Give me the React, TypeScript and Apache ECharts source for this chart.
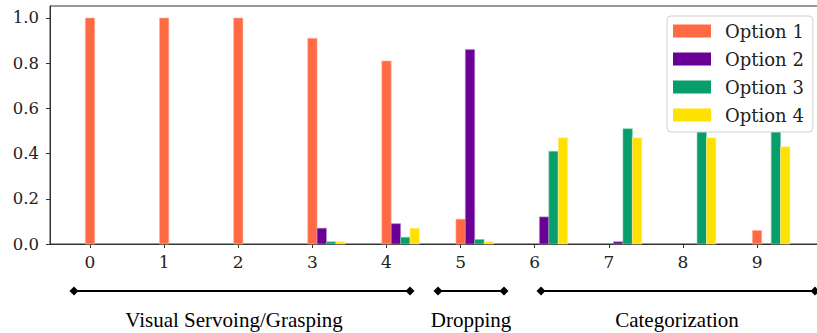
import React, { useEffect, useRef } from "react";
import * as echarts from "echarts";

const categories = [0, 1, 2, 3, 4, 5, 6, 7, 8, 9];
const seriesNames = ["Option 1", "Option 2", "Option 3", "Option 4"];
const option1 = [1.0, 1.0, 1.0, 0.91, 0.81, 0.11, 0, 0, 0, 0.06];
const option2 = [0, 0, 0, 0.07, 0.09, 0.86, 0.12, 0.01, 0, 0];
const option3 = [0, 0, 0, 0.01, 0.03, 0.02, 0.41, 0.51, 0.51, 0.51];
const option4 = [0, 0, 0, 0.01, 0.07, 0.01, 0.47, 0.47, 0.47, 0.43];
const yTicks = [0, 0.2, 0.4, 0.6, 0.8, 1.0];
const groups = [
  { label: "Visual Servoing/Grasping", x1: 74, x2: 410, tx: 234 },
  { label: "Dropping", x1: 438, x2: 504, tx: 471 },
  { label: "Categorization", x1: 541, x2: 815, tx: 677 },
];

const colors = ["#FF6A45", "#6B0096", "#079E6C", "#FFE100"];
const edges = ["#FFB8A6", "#B58ACB", "#83CEB5", "#FFF0A0"];
const BAR_W = 0.127;
const SERIF = "DejaVu Serif";

export default function App() {
  const ref = useRef<HTMLDivElement>(null);
  useEffect(() => {
    document.body.style.margin = "0";
    const chart = echarts.init(ref.current!, undefined, { renderer: "svg" });
    const all = [option1, option2, option3, option4];
    const series = all.map((vals, k) => ({
      type: "custom",
      name: seriesNames[k],
      itemStyle: { color: colors[k] },
      encode: { x: 0, y: 1 },
      data: vals.map((v, i) => [categories[i], v]),
      renderItem: (params: any, api: any) => {
        const v = api.value(1);
        if (!v) return null;
        const cx = api.value(0) + k * BAR_W;
        const p0 = api.coord([cx - BAR_W / 2, v]);
        const p1 = api.coord([cx + BAR_W / 2, 0]);
        return {
          type: "rect",
          shape: { x: p0[0], y: p0[1], width: p1[0] - p0[0], height: p1[1] - p0[1] },
          style: { fill: colors[k], stroke: edges[k], lineWidth: 0.6 },
        };
      },
    }));

    const graphic: any[] = [];
    const ly = 291;
    const d = 4.5;
    groups.forEach((g) => {
      graphic.push({
        type: "line",
        shape: { x1: g.x1, y1: ly, x2: g.x2, y2: ly },
        style: { stroke: "#000", lineWidth: 2 },
      });
      [g.x1, g.x2].forEach((cx) =>
        graphic.push({
          type: "polygon",
          shape: { points: [[cx - d, ly], [cx, ly - d], [cx + d, ly], [cx, ly + d]] },
          style: { fill: "#000" },
        })
      );
      graphic.push({
        type: "text",
        x: g.tx,
        y: 320,
        style: {
          text: g.label,
          font: '21px "Liberation Serif"',
          fill: "#000",
          align: "center",
          verticalAlign: "middle",
        },
      });
    });

    chart.setOption({
      animation: false,
      grid: {
        left: 50,
        top: 6,
        right: -9,
        bottom: 89,
        show: true,
        borderColor: "#333",
        borderWidth: 1,
        outerBoundsMode: "none",
        containLabel: false,
      },
      legend: {
        orient: "vertical",
        left: 667,
        top: 16,
        icon: "rect",
        itemWidth: 38,
        itemHeight: 13,
        itemGap: 10,
        padding: [6, 9, 8, 6],
        backgroundColor: "#fff",
        borderColor: "#d0d0d0",
        borderWidth: 1,
        borderRadius: 4,
        data: seriesNames,
        textStyle: {
          fontFamily: SERIF,
          fontSize: 18,
          color: "#222",
          padding: [0, 0, 0, 9],
          lineHeight: 17,
        },
      },
      xAxis: {
        type: "value",
        min: -0.54,
        max: 9.93,
        splitLine: { show: false },
        axisLine: { onZero: false, lineStyle: { color: "#333", width: 1 } },
        axisTick: { show: true, length: 4, customValues: categories, lineStyle: { color: "#333" } },
        axisLabel: {
          customValues: categories,
          margin: 9,
          fontFamily: SERIF,
          fontSize: 17,
          color: "#222",
          formatter: (v: number) => String(Math.round(v)),
        },
      },
      yAxis: {
        type: "value",
        min: 0,
        max: 1.053,
        splitLine: { show: false },
        axisLine: { show: true, onZero: false, lineStyle: { color: "#333", width: 1 } },
        axisTick: { show: true, length: 4, customValues: yTicks, lineStyle: { color: "#333" } },
        axisLabel: {
          customValues: yTicks,
          margin: 11,
          fontFamily: SERIF,
          fontSize: 16.5,
          color: "#222",
          formatter: (v: number) => v.toFixed(1),
        },
      },
      series,
      graphic,
    });
    return () => chart.dispose();
  }, []);
  return (
    <div
      ref={ref}
      style={{ width: 817, height: 333, position: "absolute", left: 0, top: 0, background: "#fff" }}
    />
  );
}
